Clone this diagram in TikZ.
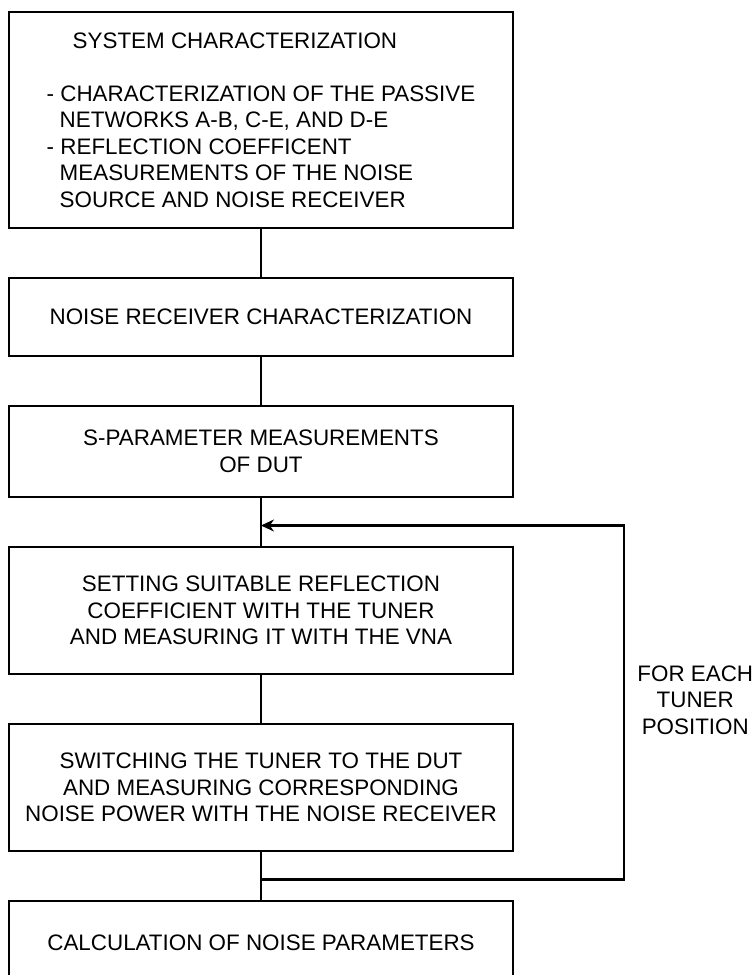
\documentclass[tikz,border=0pt]{standalone}
\usepackage{fontspec}
\setmainfont{Liberation Sans}
\usetikzlibrary{positioning,calc,arrows.meta}

\begin{document}
\begin{tikzpicture}[
			x=1pt, y=1pt,
			node distance=50pt,
			line width=2.8pt,
			procbox/.style={
				draw=black,
				minimum width=504pt,
				align=center,
				inner sep=0pt,
				outer sep=0pt,
				font=\fontsize{22.4}{26.5}\selectfont
			}
			]
			\useasboundingbox (0,0) rectangle (754,975);
			
			% System characterization
			\node[
			procbox,
			minimum height=216pt,
			align=left
			]
			(system) at (261,855)
			{\hspace*{26pt}SYSTEM CHARACTERIZATION\\[26.5pt]
				- CHARACTERIZATION OF THE PASSIVE\\
				\hspace*{13pt}NETWORKS A-B, C-E, AND D-E\\
				- REFLECTION COEFFICENT\\
				\hspace*{13pt}MEASUREMENTS OF THE NOISE\\
				\hspace*{13pt}SOURCE AND NOISE RECEIVER};
			
			% Noise receiver
			\node[
			procbox,
			minimum height=78pt,
			below=of system
			]
			(receiver)
			{NOISE RECEIVER CHARACTERIZATION};
			
			% S-parameters
			\node[
			procbox,
			minimum height=91pt,
			below=of receiver
			]
			(sparam)
			{S-PARAMETER MEASUREMENTS\\
				OF DUT};
			
			% Tuner setting
			\node[
			procbox,
			minimum height=127pt,
			below=of sparam
			]
			(setting)
			{SETTING SUITABLE REFLECTION\\
				COEFFICIENT WITH THE TUNER\\
				AND MEASURING IT WITH THE VNA};
			
			% Noise power
			\node[
			procbox,
			minimum height=127pt,
			below=of setting
			]
			(switching)
			{SWITCHING THE TUNER TO THE DUT\\
				AND MEASURING CORRESPONDING\\
				NOISE POWER WITH THE NOISE RECEIVER};
			
			% Calculation
			\node[
			procbox,
			minimum height=84pt,
			below=of switching
			]
			(calc)
			{CALCULATION OF NOISE PARAMETERS};
			
			% Connectors
			\draw (system) -- (receiver);
			\draw (receiver) -- (sparam);
			\draw (sparam) -- (setting);
			\draw (setting) -- (switching);
			\draw (switching) -- (calc);
			
			% Loop back
			\coordinate (back) at ($(sparam.south)!0.57!(setting.north)$);
			\coordinate (merge) at ($(switching.south)!0.57!(calc.north)$);
			\coordinate (loopx) at (624,0);
			\draw[-{Stealth[length=13pt,width=12pt]}, line cap=rect]
			(merge) -- (merge -| loopx) |- (back);
			
			\node[
			font=\fontsize{22.4}{26.5}\selectfont,
			align=center,
			inner sep=0pt,
			anchor=west
			]
			(label) at (636,275)
			{FOR EACH\\
				TUNER\\
				POSITION};
			
		\end{tikzpicture}
\end{document}
